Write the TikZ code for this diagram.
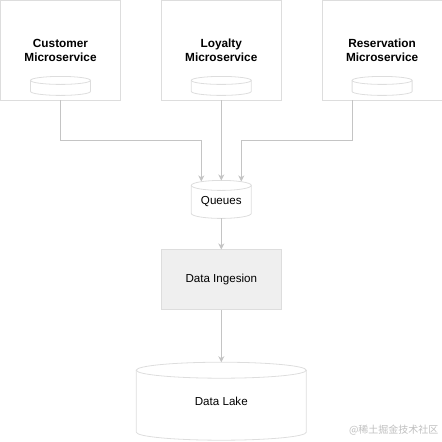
\documentclass[tikz,border=0pt]{standalone}
\usepackage{fontspec}
\setmainfont{Liberation Sans}
\newfontfamily\cjkfont{Noto Sans CJK SC}
\usepackage{xcolor}
\usetikzlibrary{positioning,arrows.meta}

\definecolor{edgegray}{HTML}{DDDDDD}
\definecolor{linegray}{HTML}{C4C4C4}
\definecolor{ingestfill}{HTML}{EFEFEF}

% outline of a database drum round a named node: name, x radius, y radius
\newcommand\drumline[3]{%
	\draw[edgegray,line width=0.8pt] ([yshift=-#3]#1.north) ellipse[x radius=#2,y radius=#3];
	\draw[edgegray,line width=0.8pt] ([yshift=-#3]#1.north west) -- ([yshift=#3]#1.south west)
		arc[start angle=180,end angle=360,x radius=#2,y radius=#3] -- ([yshift=-#3]#1.north east);
}
% label set a little lower inside a drum
\newcommand\drumtext[1]{\raisebox{-2pt}[\height][\depth]{#1}}

\begin{document}
\begin{tikzpicture}[
		font=\fontsize{11.6}{14}\selectfont,
		svc/.style={draw=edgegray,line width=0.8pt,minimum width=120pt,minimum height=100pt,align=center,font=\fontsize{11.8}{14}\selectfont\bfseries,inner sep=0pt},
		db/.style={inner sep=0pt,outer sep=0pt,align=center},
		stage/.style={draw=edgegray,line width=0.8pt,fill=ingestfill,minimum width=120pt,minimum height=60pt,align=center},
		ar/.style={-{Stealth[length=6pt,width=6pt]},linegray,line width=0.9pt}
		]

		\useasboundingbox (0,0) rectangle (442pt,-442pt);

		\node[svc] (cust) at (60.5pt,-50pt) {Customer\\Microservice};
		\node[svc,right=40pt of cust] (loy) {Loyalty\\Microservice};
		\node[svc,right=40pt of loy] (res) {Reservation\\Microservice};
		\node[db,minimum width=60pt,minimum height=19pt,above=5pt of cust.south] (custdb) {};
		\node[db,minimum width=60pt,minimum height=19pt,above=5pt of loy.south] (loydb) {};
		\node[db,minimum width=60pt,minimum height=19pt,above=5pt of res.south] (resdb) {};
		\node[db,minimum width=60pt,minimum height=38pt,below=80pt of loy] (queues) {\drumtext{Queues}};
		\node[stage,below=31pt of queues] (ingest) {Data Ingesion};
		\node[db,minimum width=170pt,minimum height=78pt,below=52pt of ingest] (lake) {Data Lake};
		\node[text=black!25,font=\cjkfont\fontsize{10}{11}\selectfont,anchor=south east] (mark) at (442pt,-439pt) {@稀土掘金技术社区};

		\drumline{custdb}{30pt}{4pt}
		\drumline{loydb}{30pt}{4pt}
		\drumline{resdb}{30pt}{4pt}
		\drumline{queues}{30pt}{5pt}
		\drumline{lake}{85pt}{8pt}

		\draw[ar] (cust.south) -- ++(0,-40pt) -| ([xshift=-20pt,yshift=-1pt]queues.north);
		\draw[ar] (loy) -- (queues);
		\draw[ar] ([xshift=-30pt]res.south) -- ++(0,-40pt) -| ([xshift=20pt,yshift=-1pt]queues.north);
		\draw[ar] (queues) -- (ingest);
		\draw[ar] (ingest) -- (lake);

	\end{tikzpicture}
\end{document}
